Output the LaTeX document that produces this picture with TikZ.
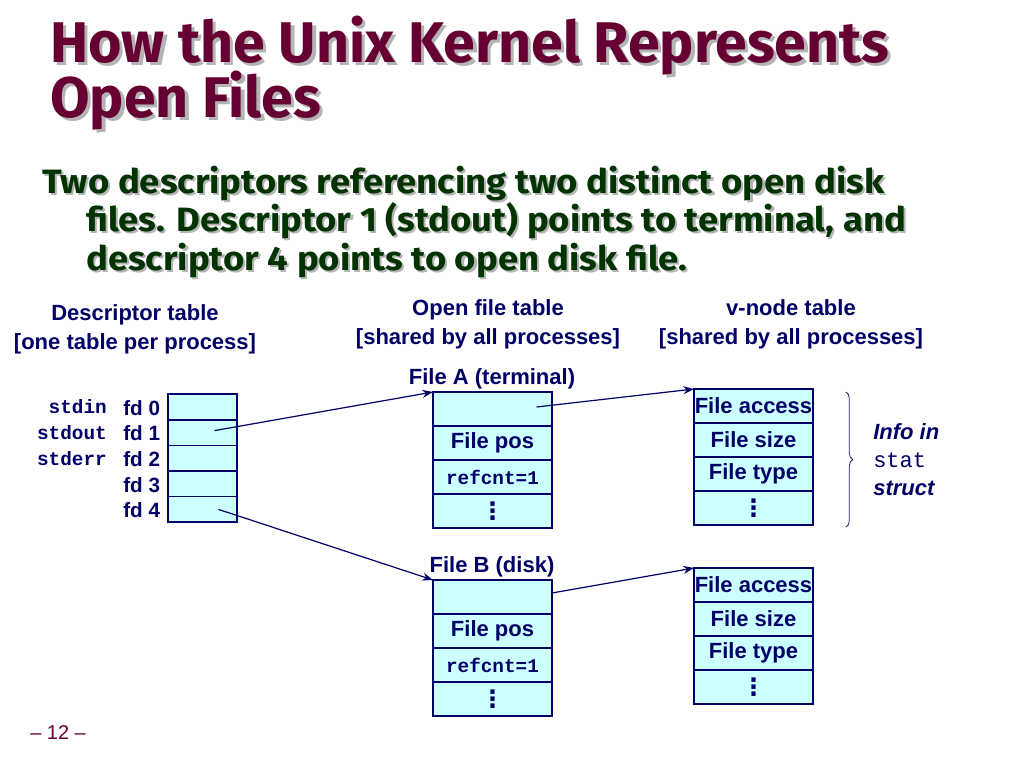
\documentclass[tikz,border=0pt]{standalone}
\usepackage{fontspec}
\setmainfont{Liberation Sans}
\setmonofont{Liberation Mono}
\newfontfamily\titlefont{Fira Sans}
\newfontfamily\subfont[FakeStretch=1.08]{Fira Sans}
\newfontfamily\dejavu{DejaVu Sans}
\usetikzlibrary{arrows.meta,decorations.pathreplacing}
\definecolor{navy}{HTML}{000066}
\definecolor{maroon}{HTML}{660033}
\definecolor{dgreen}{HTML}{003300}
\definecolor{cellfill}{HTML}{CCFFFF}
\definecolor{shadowgray}{HTML}{B4B4B4}
\newcommand\shtext[3]{\rlap{\smash{\kern#3\raisebox{-#3}{\textcolor{shadowgray}{#2}}}}\textcolor{#1}{#2}}
\newcommand\vdotsbig{{\dejavu\bfseries\fontsize{18}{18}\selectfont ⋮}}
\begin{document}
\begin{tikzpicture}[x=0.75pt,y=-0.75pt,
  cell/.style={draw=navy,fill=cellfill,line width=1.1pt,inner sep=0pt,outer sep=0pt,
    text=navy,font=\bfseries\fontsize{16.5}{19}\selectfont},
  fdcell/.style={cell,minimum width=51.75pt,minimum height=19.2pt},
  ofcell/.style={cell,minimum width=89.25pt,minimum height=25.5pt},
  vncell/.style={cell,minimum width=89.25pt,minimum height=25.5pt},
  lbl/.style={text=navy,font=\bfseries\fontsize{16.5}{20}\selectfont,inner sep=0pt,align=center},
  fdlbl/.style={text=navy,font=\bfseries\fontsize{15.5}{18}\selectfont,inner sep=0pt,anchor=west},
  stdlbl/.style={text=navy,font=\ttfamily\bfseries\fontsize{14.5}{18}\selectfont,inner sep=0pt,anchor=east},
  mono/.style={font=\ttfamily\bfseries\fontsize{14.5}{18}\selectfont},
  ptr/.style={draw=navy,line width=0.9pt,-{Stealth[length=8pt,width=6pt]}},
  ttl/.style={font=\titlefont\bfseries\fontsize{43}{50}\selectfont,inner sep=0pt,anchor=base west},
  sub/.style={font=\subfont\bfseries\fontsize{25.3}{30}\selectfont,inner sep=0pt,anchor=base west}
]
\useasboundingbox (0,0) rectangle (1024,768);
\fill[white] (0,0) rectangle (1024,768);

% Title with shadow
\node[ttl] (t1) at (50,62) {\shtext{maroon}{How the Unix Kernel Represents}{2.5pt}};
\node[ttl] (t2) at (50,117) {\shtext{maroon}{Open Files}{2.5pt}};

% Subtitle with shadow
\node[sub] (s1) at (42,193) {\shtext{dgreen}{Two descriptors referencing two distinct open disk}{1.6pt}};
\node[sub] (s2) at (86,231) {\shtext{dgreen}{files. Descriptor 1 (stdout) points to terminal, and}{1.6pt}};
\node[sub] (s3) at (86,270) {\shtext{dgreen}{descriptor 4 points to open disk file.}{1.6pt}};

% Headings
\node[lbl] (hdesc) at (135,329) {Descriptor table\\[2pt][one table per process]};
\node[lbl] (hopen) at (488,324) {Open file table\\[2pt][shared by all processes]};
\node[lbl] (hvnode) at (791,324) {v-node table\\[2pt][shared by all processes]};

% Descriptor table
\node[fdcell] (fd0) at (202.5,407) {};
\node[fdcell] (fd1) at (202.5,432.6) {};
\node[fdcell] (fd2) at (202.5,458.2) {};
\node[fdcell] (fd3) at (202.5,483.8) {};
\node[fdcell] (fd4) at (202.5,509.4) {};
\node[fdlbl] (l0) at (123,408) {fd 0};
\node[fdlbl] (l1) at (123,433.6) {fd 1};
\node[fdlbl] (l2) at (123,459.2) {fd 2};
\node[fdlbl] (l3) at (123,484.8) {fd 3};
\node[fdlbl] (l4) at (123,510.4) {fd 4};
\node[stdlbl] (sin) at (107,407) {stdin};
\node[stdlbl] (sout) at (107,433) {stdout};
\node[stdlbl] (serr) at (107,459) {stderr};

% Open file table A
\node[lbl] (fAh) at (492,379) {File A (terminal)};
\node[ofcell] (fa1) at (492.5,409) {};
\node[ofcell] (fa2) at (492.5,443) {\raisebox{-1.5pt}{File pos}};
\node[ofcell,mono] (fa3) at (492.5,477) {refcnt=1};
\node[ofcell] (fa4) at (492.5,511) {\vdotsbig};

% Open file table B
\node[lbl] (fBh) at (492,567) {File B (disk)};
\node[ofcell] (fb1) at (492.5,597) {};
\node[ofcell] (fb2) at (492.5,631) {\raisebox{-1.5pt}{File pos}};
\node[ofcell,mono] (fb3) at (492.5,665) {refcnt=1};
\node[ofcell] (fb4) at (492.5,699) {\vdotsbig};

% v-node table A
\node[vncell] (va1) at (753.5,406) {\raisebox{-1.5pt}{File access}};
\node[vncell] (va2) at (753.5,440) {\raisebox{-1.5pt}{File size}};
\node[vncell] (va3) at (753.5,474) {\raisebox{-1.5pt}{File type}};
\node[vncell] (va4) at (753.5,508) {\vdotsbig};

% v-node table B
\node[vncell] (vb1) at (753.5,585) {\raisebox{-1.5pt}{File access}};
\node[vncell] (vb2) at (753.5,619) {\raisebox{-1.5pt}{File size}};
\node[vncell] (vb3) at (753.5,653) {\raisebox{-1.5pt}{File type}};
\node[vncell] (vb4) at (753.5,687) {\vdotsbig};

% Brace and stat label
\coordinate (bt) at (846,392);
\coordinate (bb) at (846,527);
\draw[navy!70!gray,line width=0.6pt,decorate,decoration={brace,amplitude=5pt}] (bt) -- (bb);
\node[lbl,align=left,anchor=west] (info) at (873,460) {\itshape Info in\\[1pt]{\ttfamily\mdseries\fontsize{16.5}{19}\selectfont stat}\\[1pt]\itshape struct};

% Pointers
\draw[ptr] ([xshift=9pt,yshift=1.5pt]fd1.center) -- (fa1.north west);
\draw[ptr] ([xshift=12pt]fd4.center) -- (fb1.north west);
\draw[ptr] ([xshift=33pt,yshift=1.5pt]fa1.center) -- (va1.north west);
\draw[ptr] ([yshift=3pt]fb1.east) -- (vb1.north west);

% Page number
\node[text=maroon,font=\fontsize{15}{17}\selectfont,inner sep=0pt,anchor=west] (pg) at (30,733) {– 12 –};
\end{tikzpicture}
\end{document}
